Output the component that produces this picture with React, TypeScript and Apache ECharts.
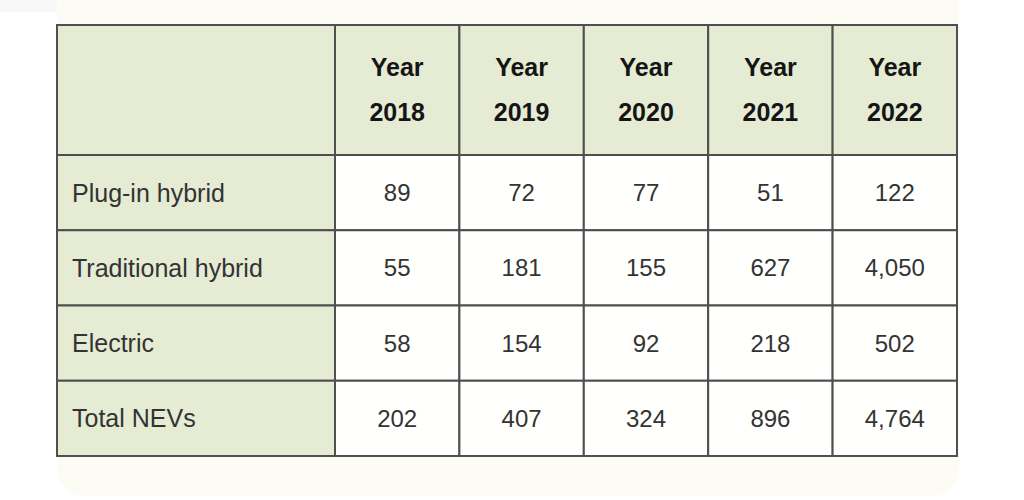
import { useEffect, useRef } from "react";
import * as echarts from "echarts";

// 表格数据
const years = ["2018", "2019", "2020", "2021", "2022"];
const rowLabels = ["Plug-in hybrid", "Traditional hybrid", "Electric", "Total NEVs"];
const plugInHybrid = [89, 72, 77, 51, 122];
const traditionalHybrid = [55, 181, 155, 627, 4050];
const electric = [58, 154, 92, 218, 502];
const totalNEVs = [202, 407, 324, 896, 4764];

const rowValues = [plugInHybrid, traditionalHybrid, electric, totalNEVs];

const GREEN = "#e5ecd3";
const WHITE = "#fffffd";
const LINE = "#4f4f4f";
const FONT = "'Liberation Sans', Arial, Helvetica, sans-serif";

const App: React.FC = () => {
	const chartRef = useRef<HTMLDivElement>(null);

	useEffect(() => {
		if (!chartRef.current) return;
		document.body.style.margin = "0";

		const chart = echarts.init(chartRef.current, null, { renderer: "svg" });

		// 单元格矩形
		const cellRect = (api: any, fill: string) => {
			const c = api.coord([api.value(0), api.value(1)]);
			const s = api.size([1, 1]);
			return {
				x: c[0] - s[0] / 2,
				y: c[1] - s[1] / 2,
				w: s[0],
				h: s[1],
				el: {
					type: "rect",
					shape: { x: c[0] - s[0] / 2, y: c[1] - s[1] / 2, width: s[0], height: s[1] },
					style: { fill, stroke: LINE, lineWidth: 2 },
				},
			};
		};

		const hiddenCat = (gridIndex: number, data: string[], inverse = false) => ({
			type: "category",
			gridIndex,
			data,
			inverse,
			show: false,
		});

		const headerYearData = years.map((y, i) => [i, 0, y]);
		const labelData = rowLabels.map((l, i) => [0, i, l]);
		const valueData: (number | string)[][] = [];
		rowValues.forEach((arr, r) => {
			arr.forEach((v, c) => valueData.push([c, r, v]));
		});

		const option = {
			animation: false,
			backgroundColor: "#ffffff",
			graphic: [
				{
					type: "rect",
					z: -10,
					shape: { x: 57, y: -30, width: 902, height: 526, r: 26 },
					style: { fill: "#fdfcf4" },
					silent: true,
				},
				{
					type: "rect",
					z: -11,
					shape: { x: 0, y: 0, width: 57, height: 12 },
					style: { fill: "#f8f8f8" },
					silent: true,
				},
			],
			grid: [
				{ left: 57, top: 25, width: 278, height: 130 },
				{ left: 335, top: 25, width: 622, height: 130 },
				{ left: 57, top: 155, width: 278, height: 301 },
				{ left: 335, top: 155, width: 622, height: 301 },
			],
			xAxis: [
				hiddenCat(0, [""]),
				hiddenCat(1, years),
				hiddenCat(2, [""]),
				hiddenCat(3, years),
			],
			yAxis: [
				hiddenCat(0, [""]),
				hiddenCat(1, [""]),
				hiddenCat(2, rowLabels, true),
				hiddenCat(3, rowLabels, true),
			],
			series: [
				{
					type: "custom",
					xAxisIndex: 0,
					yAxisIndex: 0,
					data: [[0, 0]],
					renderItem: (_p: any, api: any) => cellRect(api, GREEN).el,
				},
				{
					type: "custom",
					xAxisIndex: 1,
					yAxisIndex: 1,
					data: headerYearData,
					renderItem: (p: any, api: any) => {
						const cell = cellRect(api, GREEN);
						return {
							type: "group",
							children: [
								cell.el,
								{
									type: "text",
									style: {
										text: "Year\n" + headerYearData[p.dataIndex][2],
										x: cell.x + cell.w / 2,
										y: cell.y + cell.h / 2 - 1,
										align: "center",
										verticalAlign: "middle",
										lineHeight: 45,
										fontSize: 25,
										fontWeight: "bold",
										fontFamily: FONT,
										fill: "#151515",
									},
								},
							],
						};
					},
				},
				{
					type: "custom",
					xAxisIndex: 2,
					yAxisIndex: 2,
					data: labelData,
					renderItem: (p: any, api: any) => {
						const cell = cellRect(api, GREEN);
						return {
							type: "group",
							children: [
								cell.el,
								{
									type: "text",
									style: {
										text: labelData[p.dataIndex][2],
										x: cell.x + 15,
										y: cell.y + cell.h / 2,
										align: "left",
										verticalAlign: "middle",
										fontSize: 25,
										fontFamily: FONT,
										fill: "#333333",
									},
								},
							],
						};
					},
				},
				{
					type: "custom",
					xAxisIndex: 3,
					yAxisIndex: 3,
					data: valueData,
					renderItem: (p: any, api: any) => {
						const cell = cellRect(api, WHITE);
						const v = valueData[p.dataIndex][2] as number;
						return {
							type: "group",
							children: [
								cell.el,
								{
									type: "text",
									style: {
										text: v.toLocaleString("en-US"),
										x: cell.x + cell.w / 2,
										y: cell.y + cell.h / 2,
										align: "center",
										verticalAlign: "middle",
										fontSize: 24,
										fontFamily: FONT,
										fill: "#333333",
									},
								},
							],
						};
					},
				},
			],
		};

		chart.setOption(option);

		const handleResize = () => chart.resize();
		window.addEventListener("resize", handleResize);

		return () => {
			window.removeEventListener("resize", handleResize);
			chart.dispose();
		};
	}, []);

	return <div ref={chartRef} style={{ width: "1024px", height: "500px" }} />;
};

export default App;
